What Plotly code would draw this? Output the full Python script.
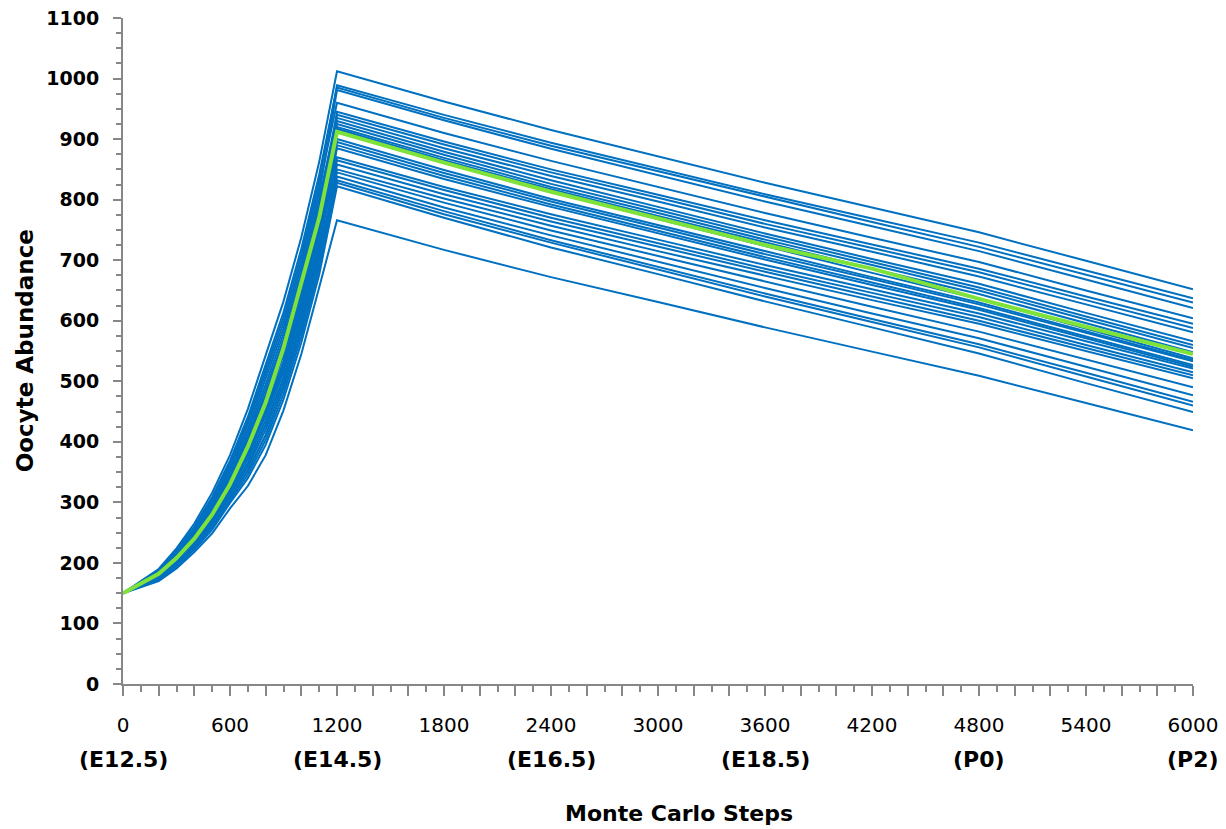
import plotly.graph_objects as go

steps = [0, 200, 300, 400, 500, 600, 700, 800, 900, 1000, 1100, 1200,
         1800, 2400, 3000, 3600, 4200, 4800, 5400, 6000]

run_01 = [150, 190, 224, 265, 316, 378, 454, 545, 632, 738, 862, 1012, 962, 915, 872, 828, 787, 746, 699, 652]
run_02 = [150, 187, 219, 258, 306, 365, 435, 520, 605, 709, 831, 989, 940, 894, 852, 809, 769, 729, 683, 637]
run_03 = [150, 188, 221, 260, 309, 369, 441, 528, 614, 719, 841, 985, 935, 889, 847, 804, 763, 722, 676, 630]
run_04 = [150, 185, 216, 253, 299, 356, 422, 503, 587, 690, 810, 981, 931, 884, 841, 797, 756, 715, 668, 621]
run_05 = [150, 186, 218, 256, 303, 360, 429, 512, 596, 699, 821, 960, 910, 864, 821, 778, 737, 697, 650, 604]
run_06 = [150, 181, 209, 244, 286, 338, 397, 470, 551, 651, 769, 945, 896, 850, 808, 766, 726, 686, 640, 595]
run_07 = [150, 184, 214, 251, 296, 352, 416, 495, 578, 680, 800, 940, 891, 845, 803, 760, 720, 680, 634, 588]
run_08 = [150, 182, 211, 246, 289, 343, 403, 478, 560, 661, 779, 935, 885, 839, 797, 754, 714, 673, 627, 581]
run_09 = [150, 179, 206, 239, 279, 330, 384, 453, 533, 632, 748, 930, 879, 832, 788, 744, 702, 661, 613, 566]
run_10 = [150, 183, 213, 249, 293, 347, 410, 487, 569, 670, 790, 925, 874, 826, 783, 739, 697, 655, 607, 560]
run_11 = [150, 180, 208, 242, 283, 334, 391, 462, 543, 642, 759, 920, 869, 821, 778, 734, 692, 650, 602, 555]
run_12 = [150, 178, 204, 237, 276, 325, 378, 445, 524, 622, 738, 917, 865, 817, 773, 729, 686, 644, 596, 548]
run_13 = [150, 182, 212, 246, 290, 343, 405, 478, 562, 661, 779, 915, 862, 813, 768, 723, 679, 636, 587, 538]
run_14 = [150, 179, 205, 239, 278, 330, 383, 453, 531, 632, 748, 900, 849, 801, 758, 714, 672, 630, 582, 535]
run_15 = [150, 181, 210, 244, 287, 338, 399, 470, 553, 651, 769, 895, 844, 797, 754, 710, 669, 627, 580, 533]
run_16 = [150, 176, 201, 232, 269, 316, 365, 428, 506, 603, 717, 890, 839, 792, 748, 705, 663, 621, 574, 527]
run_17 = [150, 178, 203, 237, 275, 325, 377, 445, 522, 622, 738, 885, 834, 788, 744, 701, 659, 618, 571, 524]
run_18 = [150, 180, 209, 242, 284, 334, 392, 462, 545, 642, 759, 870, 821, 776, 734, 692, 652, 612, 566, 521]
run_19 = [150, 177, 202, 234, 272, 321, 371, 436, 515, 613, 727, 865, 816, 770, 728, 686, 646, 606, 560, 515]
run_20 = [150, 174, 197, 227, 262, 308, 352, 411, 488, 584, 696, 858, 809, 764, 722, 681, 640, 600, 555, 510]
run_21 = [150, 178, 205, 237, 277, 325, 379, 445, 526, 622, 738, 850, 802, 757, 715, 674, 634, 595, 550, 505]
run_22 = [150, 176, 200, 232, 268, 316, 364, 428, 504, 603, 717, 845, 795, 749, 707, 664, 623, 582, 536, 490]
run_23 = [150, 173, 196, 225, 259, 303, 346, 403, 479, 574, 686, 838, 787, 741, 697, 654, 612, 571, 524, 477]
run_24 = [150, 175, 199, 230, 266, 312, 359, 420, 497, 593, 707, 832, 781, 733, 689, 645, 603, 561, 514, 466]
run_25 = [150, 174, 198, 227, 263, 308, 353, 411, 489, 584, 696, 828, 776, 729, 684, 640, 598, 556, 508, 460]
run_26 = [150, 172, 194, 222, 255, 299, 340, 395, 470, 564, 676, 822, 770, 721, 677, 632, 589, 546, 497, 449]
run_27 = [150, 170, 191, 218, 249, 290, 327, 378, 452, 545, 655, 766, 717, 672, 631, 589, 549, 509, 464, 419]

mean_run = [150, 182, 208, 240, 280, 330, 392, 465, 555, 660, 770, 912, 861, 813, 769, 725, 686, 636, 590, 545]

runs = [run_01, run_02, run_03, run_04, run_05, run_06, run_07, run_08, run_09,
        run_10, run_11, run_12, run_13, run_14, run_15, run_16, run_17, run_18,
        run_19, run_20, run_21, run_22, run_23, run_24, run_25, run_26, run_27]

x_major = [0, 600, 1200, 1800, 2400, 3000, 3600, 4200, 4800, 5400, 6000]
stage_steps = [0, 1200, 2400, 3600, 4800, 6000]
stage_labels = ["(E12.5)", "(E14.5)", "(E16.5)", "(E18.5)", "(P0)", "(P2)"]

FONT = "'DejaVu Sans', 'Liberation Sans', sans-serif"
AXIS_GREY = "#878787"

fig = go.Figure()
for r in runs:
    fig.add_trace(go.Scatter(x=steps, y=r, mode="lines",
                             line=dict(color="#0070C0", width=2),
                             showlegend=False, hoverinfo="skip"))
fig.add_trace(go.Scatter(x=steps, y=mean_run, mode="lines",
                         line=dict(color="#7FE23A", width=4),
                         showlegend=False, hoverinfo="skip"))

tickvals = list(range(0, 6001, 200))
ticktext = [str(v) if v in x_major else "" for v in tickvals]

# the page body has an 8px margin, so the figure is drawn 8px right/down;
# margins are chosen so the plot area lands where the reference's does
fig.update_layout(
    width=1226, height=829,
    margin=dict(l=115, r=41, t=10, b=153),
    paper_bgcolor="white", plot_bgcolor="white",
    font=dict(family=FONT, color="black"),
    xaxis=dict(
        range=[0, 6000], tickmode="array", tickvals=tickvals, ticktext=ticktext,
        automargin=False, ticklabeloverflow="allow",
        ticks="outside", ticklen=10, tickwidth=2, tickcolor=AXIS_GREY,
        showline=True, linecolor=AXIS_GREY, linewidth=2,
        showgrid=False, zeroline=False,
        tickfont=dict(family=FONT, size=20, color="black"),
        ticklabelstandoff=12,
        minor=dict(dtick=100, tick0=0, ticks="outside", ticklen=6,
                   tickwidth=2, tickcolor=AXIS_GREY, showgrid=False),
    ),
    yaxis=dict(
        range=[0, 1100], tickmode="array", tickvals=list(range(0, 1101, 100)),
        automargin=False, ticklabeloverflow="allow",
        ticks="outside", ticklen=8, tickwidth=2, tickcolor=AXIS_GREY,
        showline=True, linecolor=AXIS_GREY, linewidth=2,
        showgrid=False, zeroline=False,
        tickfont=dict(family=FONT, size=19, color="black", weight="bold"),
        ticklabelstandoff=10,
        minor=dict(dtick=25, tick0=0, ticks="outside", ticklen=5,
                   tickwidth=2, tickcolor=AXIS_GREY, showgrid=False),
    ),
)

for s, lab in zip(stage_steps, stage_labels):
    fig.add_annotation(x=s, y=0, xref="x", yref="paper", text=lab,
                       showarrow=False, yanchor="middle", yshift=-75,
                       font=dict(family=FONT, size=22, color="black", weight="bold"))

fig.add_annotation(x=0.52, y=0, xref="paper", yref="paper",
                   text="Monte Carlo Steps", showarrow=False,
                   yanchor="middle", yshift=-129,
                   font=dict(family=FONT, size=22, color="black", weight="bold"))

fig.add_annotation(x=-0.0913, y=0.5, xref="paper", yref="paper",
                   text="Oocyte Abundance", showarrow=False, textangle=-90,
                   xanchor="center", yanchor="middle",
                   font=dict(family=FONT, size=23, color="black", weight="bold"))

fig.write_html("out.html")
